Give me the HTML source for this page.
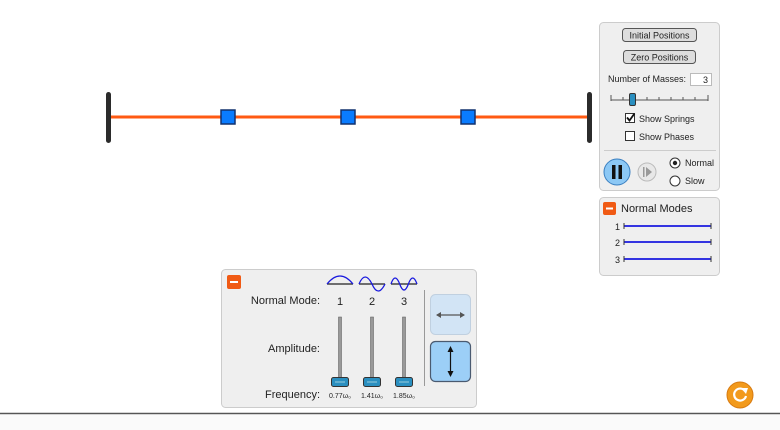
<!DOCTYPE html>
<html><head><style>body{margin:0;background:#fff}svg{display:block}text{font-family:"Liberation Sans",sans-serif;fill:#222}</style></head><body>
<svg width="780" height="430" viewBox="0 0 780 430">
<line x1="110" y1="117" x2="590" y2="117" stroke="#ff5a12" stroke-width="3"/>
<rect x="106" y="92" width="5" height="51" rx="2.5" fill="#2b2b2b"/>
<rect x="587" y="92" width="5" height="51" rx="2.5" fill="#2b2b2b"/>
<g fill="#0a7cff" stroke="#12326e" stroke-width="1.5">
<rect x="221" y="110" width="14" height="14"/><rect x="341" y="110" width="14" height="14"/><rect x="461" y="110" width="14" height="14"/></g>
<rect x="599.5" y="22.5" width="120" height="168" rx="4" fill="#efefef" stroke="#ccc"/>
<rect x="622.5" y="28.5" width="74" height="13" rx="3" fill="#ddd" stroke="#555"/>
<text x="659.5" y="38.5" font-size="9" text-anchor="middle">Initial Positions</text>
<rect x="623.5" y="50.5" width="72" height="13" rx="3" fill="#ddd" stroke="#555"/>
<text x="659.5" y="60.5" font-size="9" text-anchor="middle">Zero Positions</text>
<text x="608" y="82" font-size="9">Number of Masses:</text>
<rect x="690.5" y="73.5" width="21" height="12" fill="#fff" stroke="#bbb"/>
<text x="708" y="83" font-size="9" text-anchor="end">3</text>
<line x1="611" y1="100" x2="708" y2="100" stroke="#555" stroke-width="1"/>
<g stroke="#555"><line x1="611" y1="95" x2="611" y2="101"/><line x1="708" y1="95" x2="708" y2="101"/>
<line x1="623" y1="97" x2="623" y2="100"/><line x1="647" y1="97" x2="647" y2="100"/><line x1="659" y1="97" x2="659" y2="100"/><line x1="671" y1="97" x2="671" y2="100"/><line x1="683" y1="97" x2="683" y2="100"/><line x1="695" y1="97" x2="695" y2="100"/></g>
<rect x="629.5" y="93.5" width="6" height="12" rx="1.5" fill="#2a8fc0" stroke="#333"/>
<rect x="625.5" y="113.5" width="9" height="9" fill="#fff" stroke="#333"/>
<path d="M627 117.5 l2.5 3 l5 -7" stroke="#111" stroke-width="1.8" fill="none"/>
<text x="639" y="122" font-size="9">Show Springs</text>
<rect x="625.5" y="131.5" width="9" height="9" fill="#fff" stroke="#333"/>
<text x="639" y="140" font-size="9">Show Phases</text>
<line x1="604" y1="150.5" x2="716" y2="150.5" stroke="#ccc"/>
<circle cx="617" cy="172" r="13" fill="#8cc8f5" stroke="#3a7fc0"/>
<rect x="612" y="165" width="3.5" height="14" fill="#111"/><rect x="618.5" y="165" width="3.5" height="14" fill="#111"/>
<circle cx="647" cy="172" r="9" fill="#e8e8e8" stroke="#bbb"/>
<rect x="643" y="167" width="1.5" height="10" fill="#999"/><path d="M646 167 l6 5 l-6 5z" fill="#999"/>
<circle cx="675" cy="163" r="5" fill="#fff" stroke="#333"/><circle cx="675" cy="163" r="2.2" fill="#222"/>
<text x="685" y="166" font-size="9">Normal</text>
<circle cx="675" cy="181" r="5" fill="#fff" stroke="#333"/>
<text x="685" y="184" font-size="9">Slow</text>
<rect x="599.5" y="197.5" width="120" height="78" rx="4" fill="#efefef" stroke="#ccc"/>
<rect x="603" y="202" width="13" height="13" rx="2" fill="#f05a14"/><rect x="606" y="207.5" width="7" height="2" fill="#fff"/>
<text x="621" y="212" font-size="11">Normal Modes</text>
<g stroke="#1a1adf" stroke-width="1.8">
<line x1="624" y1="226" x2="711" y2="226"/><line x1="624" y1="242" x2="711" y2="242"/><line x1="624" y1="259" x2="711" y2="259"/></g>
<g stroke="#333"><line x1="624" y1="223" x2="624" y2="229"/><line x1="711" y1="223" x2="711" y2="229"/><line x1="624" y1="239" x2="624" y2="245"/><line x1="711" y1="239" x2="711" y2="245"/><line x1="624" y1="256" x2="624" y2="262"/><line x1="711" y1="256" x2="711" y2="262"/></g>
<text x="620" y="230" font-size="9" text-anchor="end">1</text><text x="620" y="246" font-size="9" text-anchor="end">2</text><text x="620" y="263" font-size="9" text-anchor="end">3</text>
<rect x="221.5" y="269.5" width="255" height="138" rx="4" fill="#efefef" stroke="#ccc"/>
<rect x="227" y="275" width="14" height="14" rx="2" fill="#f05a14"/><rect x="230" y="281" width="8" height="2" fill="#fff"/>
<g fill="none" stroke-width="1.3">
<line x1="327" y1="284" x2="353" y2="284" stroke="#222"/><path d="M327 284 Q340 268 353 284" stroke="#1a1adf"/>
<line x1="359" y1="284" x2="385" y2="284" stroke="#222"/><path d="M359 284 Q365 270 372 284 Q378 298 385 284" stroke="#1a1adf"/>
<line x1="391" y1="284" x2="417" y2="284" stroke="#222"/><path d="M391 284 Q395 272 399.7 284 Q404 296 408.4 284 Q412.7 272 417 284" stroke="#1a1adf"/></g>
<text x="320" y="304" font-size="11" text-anchor="end">Normal Mode:</text>
<text x="340" y="305" font-size="11" text-anchor="middle">1</text><text x="372" y="305" font-size="11" text-anchor="middle">2</text><text x="404" y="305" font-size="11" text-anchor="middle">3</text>
<text x="320" y="352" font-size="11" text-anchor="end">Amplitude:</text>
<text x="320" y="398" font-size="11" text-anchor="end">Frequency:</text>
<g fill="#999" stroke="#555" stroke-width="0.5"><rect x="338.5" y="317" width="3" height="66"/><rect x="370.5" y="317" width="3" height="66"/><rect x="402.5" y="317" width="3" height="66"/></g>
<g fill="#2a8fc0" stroke="#333"><rect x="331.5" y="377.5" width="17" height="9" rx="2"/><rect x="363.5" y="377.5" width="17" height="9" rx="2"/><rect x="395.5" y="377.5" width="17" height="9" rx="2"/></g>
<g stroke="#9cd" stroke-width="1"><line x1="335" y1="382" x2="345" y2="382"/><line x1="367" y1="382" x2="377" y2="382"/><line x1="399" y1="382" x2="409" y2="382"/></g>
<text x="340" y="398" font-size="7" text-anchor="middle">0.77ω₀</text><text x="372" y="398" font-size="7" text-anchor="middle">1.41ω₀</text><text x="404" y="398" font-size="7" text-anchor="middle">1.85ω₀</text>
<line x1="424.5" y1="290" x2="424.5" y2="386" stroke="#999"/>
<rect x="430.5" y="294.5" width="40" height="40" rx="5" fill="#d2e4f5" stroke="#c0d0e0"/>
<line x1="437" y1="315" x2="464" y2="315" stroke="#555" stroke-width="1.2"/><path d="M436 315 l5 -3 v6z M465 315 l-5 -3 v6z" fill="#555"/>
<rect x="430.5" y="341.5" width="40" height="40" rx="5" fill="#9ccff7" stroke="#4a5a70" stroke-width="1.2"/>
<line x1="450.5" y1="348" x2="450.5" y2="375" stroke="#111" stroke-width="1.2"/><path d="M450.5 346 l-3 6 h6z M450.5 377 l-3 -6 h6z" fill="#111"/>
<circle cx="740" cy="395" r="13" fill="#f29a1c" stroke="#d77a10"/>
<path d="M745 391 A6 6 0 1 0 746 396" stroke="#fff" stroke-width="2.2" fill="none"/><path d="M741 388 l7 0 l-2 6z" fill="#fff"/>
<line x1="0" y1="413.5" x2="780" y2="413.5" stroke="#555" stroke-width="1.5"/>
<rect x="0" y="415" width="780" height="15" fill="#fafafa"/>
</svg>
</body></html>
